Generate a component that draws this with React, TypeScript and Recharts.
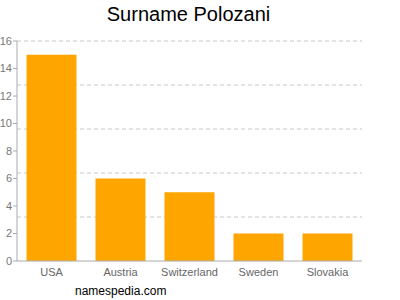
import React from "react";
import { BarChart, Bar, XAxis, YAxis, CartesianGrid } from "recharts";

const countries = ["USA", "Austria", "Switzerland", "Sweden", "Slovakia"];
const counts = [15, 6, 5, 2, 2];
const yTicks = [0, 2, 4, 6, 8, 10, 12, 14, 16];
const gridValues = [3.2, 6.4, 9.6, 12.8, 16];

const data = countries.map((name, i) => ({ name, value: counts[i] }));

const font = "'Liberation Sans', Arial, sans-serif";

export default function App() {
  return (
    <div
      style={{
        position: "absolute",
        left: 0,
        top: 0,
        width: 400,
        height: 300,
        background: "#fff",
        fontFamily: font,
      }}
    >
      <div
        style={{
          position: "absolute",
          top: 3,
          left: 0,
          width: 377,
          textAlign: "center",
          fontSize: 20,
          color: "#000",
        }}
      >
        Surname Polozani
      </div>
      <BarChart
        width={400}
        height={300}
        data={data}
        margin={{ top: 41, right: 38, left: 0, bottom: 19 }}
        barCategoryGap={9.5}
      >
        <CartesianGrid
          vertical={false}
          horizontalValues={gridValues}
          stroke="#c8c8c8"
          strokeDasharray="4 3"
        />
        <XAxis
          dataKey="name"
          tickLine={false}
          axisLine={{ stroke: "#aaa" }}
          height={20}
          tick={{ fill: "#666", fontSize: 11, fontFamily: font }}
          tickMargin={1}
          interval={0}
        />
        <YAxis
          width={17}
          domain={[0, 16]}
          ticks={yTicks}
          interval={0}
          axisLine={{ stroke: "#aaa" }}
          tickLine={{ stroke: "#aaa" }}
          tickSize={4}
          tickMargin={1}
          tick={{ fill: "#777", fontSize: 11, fontFamily: font }}
        />
        <Bar dataKey="value" fill="#FFA500" isAnimationActive={false} />
      </BarChart>
      <div
        style={{
          position: "absolute",
          top: 284,
          left: 75,
          fontSize: 12,
          color: "#000",
        }}
      >
        namespedia.com
      </div>
    </div>
  );
}
